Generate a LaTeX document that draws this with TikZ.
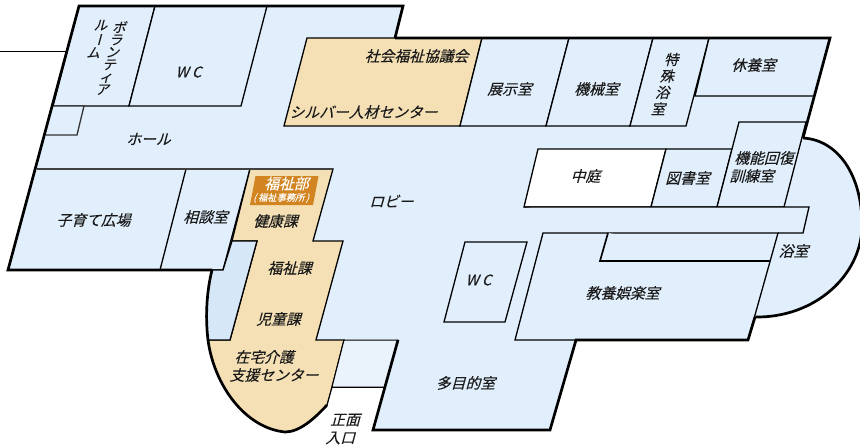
\documentclass[tikz,border=0pt]{standalone}
\usepackage{fontspec}
\setmainfont[FakeBold=0.12]{Noto Sans CJK JP}
\definecolor{roomblue}{HTML}{E1EEFB}
\definecolor{deepblue}{HTML}{D6E8F8}
\definecolor{paleblue}{HTML}{EAF2FC}
\definecolor{beige}{HTML}{F5E0B5}
\definecolor{amber}{HTML}{D18420}
\definecolor{ink}{HTML}{1A1A1A}
\tikzset{
  wall/.style={draw=black,line width=2.7pt,line join=miter},
  room/.style={draw=black,line width=1.3pt,fill=roomblue,line join=miter},
  warm/.style={draw=black,line width=1.3pt,fill=beige,line join=miter},
  tag/.style={inner sep=0pt,text=ink,xslant=.27,align=center,font=\fontsize{14.8}{18}\selectfont},
  vtag/.style={tag,font=\fontsize{13.5}{12.4}\selectfont},
  whitetag/.style={tag,text=white}
}
\begin{document}
\begin{tikzpicture}[x=1pt,y=-1pt]
\useasboundingbox (0,0) rectangle (860,447);
\clip (0,0) rectangle (860,447);
% bath bulge
\path[fill=roomblue] (803,138) .. controls (838,140) and (862,175) .. (862,225) .. controls (862,275) and (815,318) .. (755,317) -- cycle;
\draw[wall] (803,138) .. controls (838,140) and (862,175) .. (862,225) .. controls (862,275) and (815,318) .. (755,317);
% main floor
\path[fill=roomblue] (79,6) -- (403,6) -- (395,38) -- (830,38) -- (755,317) -- (748,340) -- (576,340) -- (550,430) -- (373,430) -- (398,340) -- (208,340) .. controls (205,315) and (207,290) .. (212,270) -- (8,270) -- cycle;
% courtyard
\draw[room,fill=white] (538,149) -- (666,149) -- (651,207) -- (524,207) -- cycle;
% upper left rooms
\draw[room] (79,6) -- (155,6) -- (129,106) -- (53,106) -- cycle;
\draw[room] (155,6) -- (267,6) -- (241,106) -- (129,106) -- cycle;
\draw[room,draw=black!80] (53,106) -- (84,106) -- (77,135) -- (46,135);
% lower left rooms
\draw[room] (186,169) -- (160,270);
\draw[room] (250,169) -- (223,270) -- (212,270);
% beige welfare block
\draw[warm] (250,169) -- (333,169) -- (313,241) -- (343,241) -- (316,340) -- (344,340) -- (332,387) -- (327,405) .. controls (315,418) and (300,432) .. (285,432) .. controls (245,428) and (214,385) .. (208,340) -- (230,340) -- (257,241) -- (232,241) -- cycle;
\draw[draw=black,line width=1.3pt,fill=deepblue] (212,270) -- (223,270) -- (232,241) -- (257,241) -- (230,340) -- (208,340) .. controls (205,315) and (207,290) .. (212,270) -- cycle;
\draw[line width=2pt,draw=black!75] (37,169) -- (333,169);
% entrance
\draw[draw=black,line width=1pt,fill=paleblue] (344,340) -- (398,340) -- (385,387) -- (332,387) -- cycle;
% top middle rooms
\draw[warm] (307,38) -- (482,38) -- (460,126) -- (284,126) -- cycle;
\draw[room] (482,38) -- (569,38) -- (546,126) -- (460,126) -- cycle;
\draw[room] (569,38) -- (653,38) -- (630,126) -- (546,126) -- cycle;
\draw[room] (653,38) -- (709,38) -- (686,126) -- (630,126) -- cycle;
\draw[room] (709,38) -- (695,96) -- (813,96);
% library, rehab
\draw[room] (666,149) -- (732,149) -- (717,207) -- (651,207) -- cycle;
\draw[room] (739,122) -- (806,122) -- (784,207) -- (717,207) -- cycle;
% corridor, recreation
\draw[room] (524,207) -- (809,207) -- (803,233) -- (778,233);
\draw[room] (543,233) -- (778,233) -- (748,340) -- (515,340) -- cycle;
\draw[room,line width=1.7pt] (608,233) -- (600,261) -- (770,261);
% lobby WC
\draw[room] (465,242) -- (527,242) -- (505,322) -- (444,322) -- cycle;
% outer walls
\draw[wall] (395,38) -- (830,38) -- (803,138);
\draw[wall] (755,317) -- (748,340) -- (576,340) -- (550,430) -- (373,430) -- (398,340);
\draw[wall] (212,270) -- (8,270) -- (79,6) -- (403,6) -- (395,38);
\draw[wall] (208,340) .. controls (205,315) and (207,290) .. (212,270);
\draw[wall] (327,405) .. controls (315,418) and (300,432) .. (285,432) .. controls (245,428) and (214,385) .. (208,340);
\draw[draw=black,line width=1pt] (385,387) -- (332,387);
\draw[draw=black,line width=1pt] (0,51) -- (67,51);
% amber sign
\path[fill=amber] (255.5,176) -- (318.5,176) -- (313,205) -- (250,205) -- cycle;
% labels
\node[vtag] (vol1) at (112,58) {ボ\\ラ\\ン\\テ\\ィ\\ア};
\node[vtag] (vol2) at (98,39) {ル\\\rotatebox[origin=c]{-90}{ー}\\ム};
\node[tag] (wc1) at (190,72) {W C};
\node[tag] (hall) at (150,139) {ホール};
\node[tag] (kosodate) at (95,220) {子育て広場};
\node[tag] (sodan) at (207,217) {相談室};
\node[whitetag] (fukushibu) at (288,183.5) {福祉部};
\node[whitetag,font=\fontsize{9.3}{11}\selectfont] (jimusho) at (282,198) {(\,福祉事務所\,)};
\node[tag] (kenko) at (277,221) {健康課};
\node[tag] (fukushika) at (291,268) {福祉課};
\node[tag] (jido) at (280,319) {児童課};
\node[tag,align=left] (zaitaku) at (278,366) {在宅介護\\支援センター};
\node[tag] (shomen) at (344,429) {正面\\入口};
\node[tag] (tamoku) at (467,383) {多目的室};
\node[tag] (wc2) at (480,280) {W C};
\node[tag] (kyoyo) at (624,293) {教養娯楽室};
\node[tag] (yokushitsu) at (795,251) {浴室};
\node[tag] (robby) at (393,201) {ロビー};
\node[tag] (shakyo) at (418,56) {社会福祉協議会};
\node[tag] (silver) at (365,112) {シルバー人材センター};
\node[tag] (tenji) at (511,89) {展示室};
\node[tag] (kikai) at (598,89) {機械室};
\node[vtag,font=\fontsize{14.3}{16.5}\selectfont] (tokushu) at (666,84) {特\\殊\\浴\\室};
\node[tag] (kyuyo) at (755,65) {休養室};
\node[tag] (nakaniwa) at (587,176) {中庭};
\node[tag] (tosho) at (689,178) {図書室};
\node[tag,align=left] (kino) at (763,167) {機能回復\\訓練室};
\end{tikzpicture}
\end{document}
